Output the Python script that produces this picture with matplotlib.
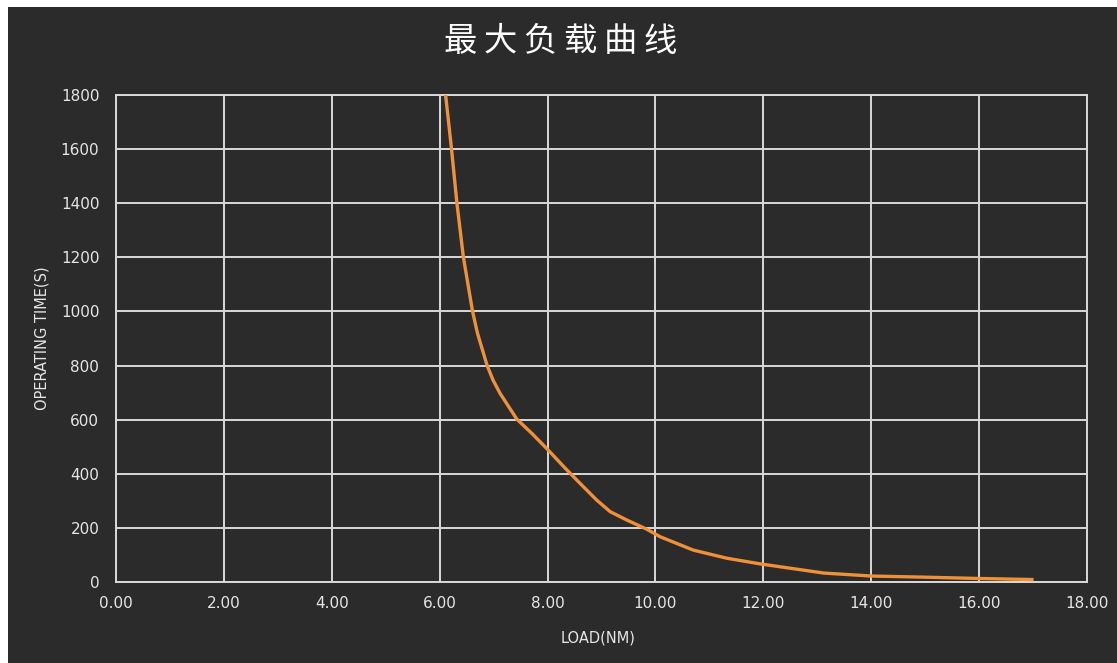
import numpy as np
import matplotlib
matplotlib.use("Agg")
import matplotlib.pyplot as plt
from matplotlib.patches import Rectangle

plt.rcParams['font.family'] = ['Noto Sans CJK SC', 'DejaVu Sans']

# values
load = [6.11, 6.22, 6.32, 6.44, 6.61, 6.70, 6.88, 6.99, 7.12, 7.43, 7.71, 8.01,
        8.33, 8.60, 8.91, 9.16, 9.47, 9.84, 10.09, 10.70, 11.32, 11.94,
        13.12, 14.01, 14.96, 15.99, 17.01]
op_time = [1800, 1600, 1400, 1200, 1000, 920, 800, 746, 697, 602, 549, 488,
           420, 365, 303, 260, 229, 195, 167, 118, 88, 67,
           33, 22, 18, 13, 9]
x_ticks = np.arange(0, 18.01, 2)
y_ticks = np.arange(0, 1801, 200)

bg = '#2b2b2b'
grid_c = '#d9d9d9'
txt_c = '#e6e6e6'

fig = plt.figure(figsize=(11.17, 6.63), dpi=100, facecolor='white')
# dark panel with thin white margin top/left
fig.patches.append(Rectangle((8 / 1117, 0), 1, 656 / 663, transform=fig.transFigure,
                             facecolor=bg, edgecolor='none', zorder=-10))

ax = fig.add_axes([116 / 1117, 1 - 582 / 663, 971 / 1117, 487 / 663])
ax.set_facecolor(bg)
ax.plot(load, op_time, color='#f0913a', lw=2.4, solid_capstyle='butt',
        solid_joinstyle='round', zorder=3)

ax.set_xlim(0, 18)
ax.set_ylim(0, 1800)
ax.set_xticks(x_ticks)
ax.set_xticklabels(['%.2f' % v for v in x_ticks])
ax.set_yticks(y_ticks)
ax.grid(True, color=grid_c, lw=1.4)
ax.set_axisbelow(True)
for s in ax.spines.values():
    s.set_color(grid_c)
    s.set_linewidth(1.4)
ax.tick_params(length=0, colors=txt_c, labelsize=11)
ax.tick_params(axis='x', pad=10)
ax.tick_params(axis='y', pad=12)
for lab in ax.get_xticklabels() + ax.get_yticklabels():
    lab.set_family('DejaVu Sans')

fig.text(561 / 1117, 1 - 41 / 663, '\u2009'.join('最大负载曲线'), color='white',
         fontsize=24, ha='center', va='center')
fig.text(598 / 1117, 1 - 638 / 663, 'LOAD(NM)', color=txt_c, fontsize=10.5,
         ha='center', va='center', family='DejaVu Sans')
fig.text(42 / 1117, 1 - 338 / 663, 'OPERATING TIME(S)', color=txt_c, fontsize=10.5,
         ha='center', va='center', rotation=90, family='DejaVu Sans')

fig.savefig('out.png', dpi=100, facecolor='white')
